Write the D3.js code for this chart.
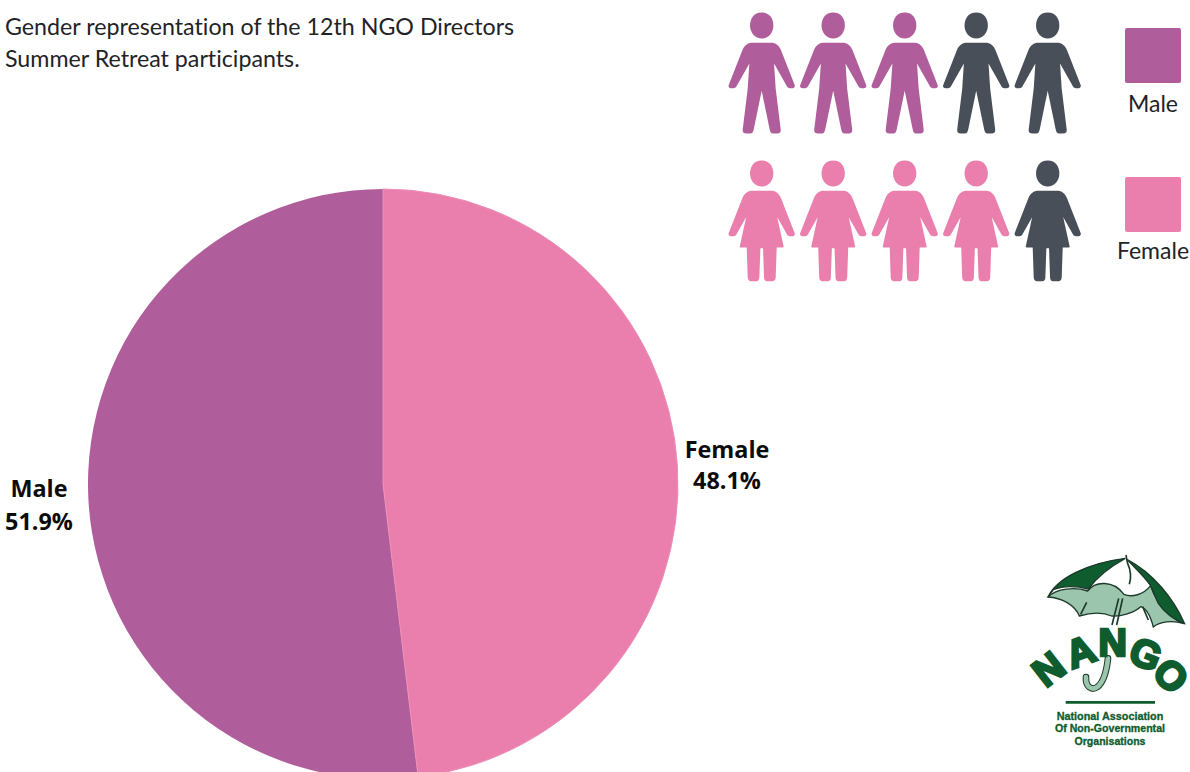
<!DOCTYPE html>
<html>
<head>
<meta charset="utf-8">
<script src="https://cdn.jsdelivr.net/npm/d3@7"></script>
<style>
  html, body { margin: 0; padding: 0; background: #fff; }
  svg { display: block; }
  text { font-family: Lato, "Open Sans", sans-serif; fill: #1f2326; font-variant-ligatures: none; }
</style>
</head>
<body>
<svg id="chart" width="1190" height="772"></svg>
<script>
// Chart content
const titleLines = ["Gender representation of the 12th NGO Directors", "Summer Retreat participants."];
const categories = ["Female", "Male"];
const shares = [48.1, 51.9];
const categoryColors = ["#ea7fae", "#b05e9b"];
const seamColor = "#eb8fb8";
const neutralColor = "#484f58";

// Pictogram rows: how many of five figures carry the category colour
const iconCategories = ["Male", "Female"];
const iconFilled = [3, 4];
const iconSlots = [0, 1, 2, 3, 4];

// Logo wording
const logoLetters = ["N", "A", "N", "G", "O"];
const logoLines = ["National Association", "Of Non-Governmental", "Organisations"];
const logoLineWidths = [320, 330, 213];

const svg = d3.select("#chart");
const color = d3.scaleOrdinal(categories, categoryColors);

// Title
svg.append("g").selectAll("text").data(titleLines).join("text")
  .attr("x", 5).attr("y", (d, i) => 35 + i * 31.5)
  .style("font-size", "23.22px")
  .text(d => d);

// Pie, starting at twelve o'clock and running clockwise
const pieCx = 383, pieCy = 484, pieR = 295;
const pie = d3.pie().sort(null).value(d => d.value);
const arc = d3.arc().innerRadius(0).outerRadius(pieR);
const slices = pie(categories.map((name, i) => ({ name, value: shares[i] })));

const pieG = svg.append("g").attr("transform", `translate(${pieCx},${pieCy})`);
pieG.selectAll("path").data(slices).join("path")
  .attr("d", arc)
  .attr("fill", d => color(d.data.name))
  .attr("stroke", d => d.data.name === "Female" ? seamColor : "none")
  .attr("stroke-width", 1)
  .filter(d => d.data.name === "Female").raise();

// Pie labels sit just outside the rim, at the level of each slice's midpoint
const labelAnchor = { Female: [727, 458], Male: [39, 497] };
const labelLeading = { Female: 31, Male: 33 };
const pieLabels = svg.append("g").selectAll("g").data(slices).join("g")
  .attr("transform", d => `translate(${labelAnchor[d.data.name]})`)
  .attr("text-anchor", "middle");
const styleLabel = t => t
  .style("font-family", '"Open Sans", sans-serif')
  .style("font-weight", 700)
  .style("font-size", "23.4px")
  .style("fill", "#0c0c0c");
pieLabels.append("text").call(styleLabel).text(d => d.data.name);
pieLabels.append("text").call(styleLabel)
  .attr("y", d => labelLeading[d.data.name])
  .text(d => d3.format(".1f")(d.data.value) + "%");

// Figure outlines, drawn around a local origin at the centre of the head's column
const sx = v => v / 3;
const headPath = d3.path();
headPath.moveTo(sx(0), sx(-39));
headPath.bezierCurveTo(sx(24), sx(-39), sx(35), sx(-20), sx(35), sx(0));
headPath.bezierCurveTo(sx(35), sx(22), sx(20), sx(39), sx(0), sx(39));
headPath.bezierCurveTo(sx(-20), sx(39), sx(-35), sx(22), sx(-35), sx(0));
headPath.bezierCurveTo(sx(-35), sx(-20), sx(-24), sx(-39), sx(0), sx(-39));
headPath.closePath();

function outline(points) {
  return points.map(c => c[0] + c.slice(1).map(sx).join(" ")).join("") + "Z";
}
const upper = [
  ["M", -28, 52], ["L", 28, 52],
  ["C", 42, 52, 52, 60, 58, 74],
  ["L", 98, 176], ["C", 102, 184, 97, 188, 90, 188],
  ["L", 84, 188], ["C", 78, 188, 76, 184, 73, 178],
  ["L", 37, 114]
];
const upperBack = [
  ["L", -37, 114],
  ["L", -73, 178], ["C", -76, 184, -78, 188, -84, 188],
  ["L", -90, 188], ["C", -97, 188, -102, 184, -98, 176],
  ["L", -58, 74], ["C", -52, 60, -42, 52, -28, 52]
];
const maleShape = outline(upper.concat([
  ["L", 42, 190], ["L", 57, 312], ["C", 58, 320, 54, 324, 46, 324],
  ["L", 34, 324], ["C", 28, 324, 26, 320, 24, 312],
  ["L", 0, 196],
  ["L", -24, 312], ["C", -26, 320, -28, 324, -34, 324],
  ["L", -46, 324], ["C", -54, 324, -58, 320, -57, 312],
  ["L", -42, 190]
], upperBack));
const femaleShape = outline(upper.concat([
  ["L", 43, 115], ["L", 66, 220], ["L", 64, 222], ["L", 45, 222],
  ["L", 42, 312], ["C", 41, 320, 38, 323, 32, 323],
  ["L", 16, 323], ["C", 10, 323, 8, 320, 7, 312],
  ["L", 4, 224], ["L", -4, 224],
  ["L", -7, 312], ["C", -8, 320, -10, 323, -16, 323],
  ["L", -32, 323], ["C", -38, 323, -41, 320, -42, 312],
  ["L", -45, 222], ["L", -64, 222], ["L", -66, 220],
  ["L", -43, 115]
], upperBack));

const iconX = d3.scalePoint().domain(iconSlots).range([761.7, 1047.7]);
const rowY = d3.scalePoint().domain(iconCategories).range([25.5, 173.5]);
const shapes = { Male: maleShape, Female: femaleShape };

const rows = svg.append("g").selectAll("g").data(iconCategories).join("g")
  .attr("transform", d => `translate(0,${rowY(d)})`);
rows.each(function (cat, r) {
  const figures = d3.select(this).selectAll("g").data(iconSlots).join("g")
    .attr("transform", s => `translate(${iconX(s)},0)`)
    .attr("fill", s => s < iconFilled[r] ? color(cat) : neutralColor);
  figures.append("path").attr("d", headPath.toString());
  figures.append("path").attr("d", shapes[cat]);
});

// Legend swatches and captions
const legendY = d3.scalePoint().domain(iconCategories).range([28, 177]);
const legend = svg.append("g").selectAll("g").data(iconCategories).join("g")
  .attr("transform", d => `translate(1125,${legendY(d)})`);
legend.append("rect")
  .attr("width", 56).attr("height", 55).attr("rx", 2)
  .attr("fill", d => color(d));
legend.append("text")
  .attr("x", 28).attr("y", (d, i) => i ? 82 : 84)
  .attr("text-anchor", "middle")
  .style("font-size", "23px")
  .text(d => d);

// Umbrella logo
const green = "#0f5c2e", pale = "#9cc5ad", ink = "#1c3a2a";
const logo = svg.append("g").attr("transform", "translate(1020,545) scale(0.3333)");
const hook = "M264 340 C260 378 250 412 232 426 C214 438 196 424 198 396";
logo.append("path")
  .attr("d", hook)
  .attr("fill", "none").attr("stroke", ink).attr("stroke-width", 20).attr("stroke-linecap", "round");
logo.append("path")
  .attr("d", hook)
  .attr("fill", "none").attr("stroke", pale).attr("stroke-width", 14).attr("stroke-linecap", "round");
logo.append("path") // canopy underside
  .attr("d", "M84 156 C110 130 165 125 203 138 C225 108 280 105 312 148 C335 158 370 150 392 122 C405 165 440 215 492 236 C455 225 420 230 400 246 C392 215 380 190 362 185 C340 205 300 215 275 213 C245 200 205 205 178 213 C165 180 125 158 84 156Z")
  .attr("fill", pale).attr("stroke", ink).attr("stroke-width", 4);
logo.append("path") // canopy left panel
  .attr("d", "M84 156 C110 100 200 55 316 40 C270 65 235 90 205 132 C165 122 130 122 100 134Z")
  .attr("fill", green).attr("stroke", ink).attr("stroke-width", 4);
logo.append("path") // canopy right panel
  .attr("d", "M322 44 C400 85 460 160 494 236 C465 225 435 205 415 175 C405 155 398 135 392 122 C370 90 345 70 322 44Z")
  .attr("fill", green).attr("stroke", ink).attr("stroke-width", 4);
logo.append("path") // ferrule, ribs and shaft
  .attr("d", "M318 30 L322 52 M322 52 C332 75 334 100 328 118 M296 160 L276 240 M308 160 L290 240 M200 172 L182 208 M368 185 L385 225")
  .attr("fill", "none").attr("stroke", ink).attr("stroke-width", 5);

const letterArc = [[111, 404, -38], [195, 358, -20], [278, 333, 0], [362, 365, 22], [424, 421, 45]];
logo.append("g").selectAll("text").data(logoLetters).join("text")
  .attr("transform", (d, i) => `translate(${letterArc[i][0]},${letterArc[i][1]}) rotate(${letterArc[i][2]})`)
  .attr("text-anchor", "middle")
  .style("font-family", '"Liberation Sans", sans-serif')
  .style("font-weight", 700)
  .style("font-size", "118px")
  .style("fill", green)
  .style("stroke", green)
  .style("stroke-width", 8)
  .text(d => d);

logo.append("line")
  .attr("x1", 137).attr("x2", 405).attr("y1", 472).attr("y2", 472)
  .attr("stroke", green).attr("stroke-width", 8);

logo.append("g").selectAll("text").data(logoLines).join("text")
  .attr("x", 270).attr("y", (d, i) => [525, 561, 601][i])
  .attr("text-anchor", "middle")
  .attr("textLength", (d, i) => logoLineWidths[i])
  .attr("lengthAdjust", "spacingAndGlyphs")
  .style("font-family", '"Liberation Sans", sans-serif')
  .style("font-weight", 700)
  .style("font-size", "35px")
  .style("fill", green)
  .style("stroke", green)
  .style("stroke-width", 1)
  .text(d => d);
</script>
</body>
</html>
